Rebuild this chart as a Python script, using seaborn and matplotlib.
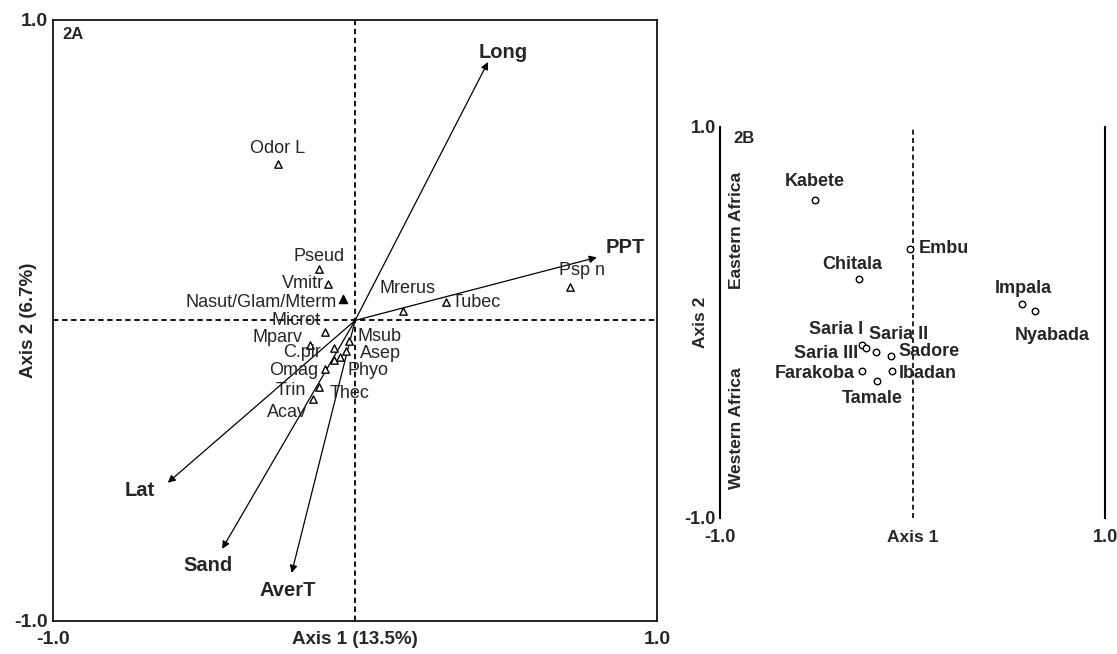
import matplotlib
matplotlib.use("Agg")
import matplotlib.pyplot as plt
import seaborn as sns
import pandas as pd

sns.set_theme(style="white")
plt.rcParams['font.family'] = ['Liberation Sans', 'DejaVu Sans']

# ---- Panel 2A: environmental vectors ----
env_names = ["Long", "PPT", "Lat", "Sand", "AverT"]
env_x = [0.44, 0.80, -0.62, -0.44, -0.21]
env_y = [0.86, 0.21, -0.54, -0.76, -0.84]
env_lab_x = [0.49, 0.894, -0.712, -0.487, -0.222]
env_lab_y = [0.893, 0.243, -0.567, -0.817, -0.90]

# ---- Panel 2A: species scores ----
sp_names = ["Odor L", "Pseud", "Vmitr", "Nasut/Glam/Mterm", "Microt", "Mparv",
            "C.pir", "Msub", "Asep", "Omag", "Phyo", "Trin", "Thec", "Acav",
            "Mrerus", "Tubec", "Psp n"]
sp_x = [-0.255, -0.12, -0.09, -0.04, -0.10, -0.15, -0.07, -0.02, -0.03, -0.10,
        -0.05, -0.12, -0.07, -0.14, 0.16, 0.30, 0.71]
sp_y = [0.52, 0.17, 0.12, 0.07, -0.04, -0.08, -0.09, -0.07, -0.10, -0.16,
        -0.12, -0.22, -0.13, -0.26, 0.03, 0.06, 0.11]
sp_filled = [False, False, False, True, False, False, False, False, False, False,
             False, False, False, False, False, False, False]
sp_lab_x = [-0.258, -0.118, -0.103, -0.06, -0.195, -0.257, -0.175, 0.08, 0.083,
            -0.204, 0.043, -0.212, -0.017, -0.226, 0.175, 0.32, 0.75]
sp_lab_y = [0.573, 0.213, 0.123, 0.06, 0.0, -0.057, -0.106, -0.053, -0.11,
            -0.165, -0.167, -0.233, -0.243, -0.307, 0.107, 0.06, 0.167]
sp_ha = ["center", "center", "right", "right", "center", "center", "center",
         "center", "center", "center", "center", "center", "center", "center",
         "center", "left", "center"]

# ---- Panel 2B: site scores ----
site_names = ["Kabete", "Embu", "Chitala", "Impala", "Nyabada", "Saria I",
              "Saria II", "Saria III", "Sadore", "Farakoba", "Ibadan", "Tamale"]
site_x = [-0.506, -0.013, -0.28, 0.57, 0.636, -0.26, -0.19, -0.24, -0.11,
          -0.26, -0.106, -0.185]
site_y = [0.627, 0.376, 0.22, 0.095, 0.059, -0.115, -0.15, -0.13, -0.17,
          -0.25, -0.25, -0.30]
site_lab_x = [-0.51, 0.034, -0.314, 0.574, 0.725, -0.259, -0.226, -0.283,
              -0.075, -0.299, -0.07, -0.21]
site_lab_y = [0.72, 0.38, 0.294, 0.176, -0.069, -0.038, -0.064, -0.161,
              -0.151, -0.263, -0.263, -0.39]
site_ha = ["center", "left", "center", "center", "center", "right", "left",
           "right", "left", "right", "left", "center"]

df_sp = pd.DataFrame({"x": sp_x, "y": sp_y, "filled": sp_filled})
df_site = pd.DataFrame({"x": site_x, "y": site_y})

fig = plt.figure(figsize=(11.17, 6.54), dpi=100)
axA = fig.add_axes([0.0474, 0.0505, 0.541, 0.919])
axB = fig.add_axes([0.6446, 0.208, 0.3447, 0.598])

# ---------------- Panel A ----------------
axA.set_xlim(-1, 1)
axA.set_ylim(-1, 1)
axA.axhline(0, color="black", ls=(0, (3, 2)), lw=1.3, zorder=1)
axA.axvline(0, color="black", ls=(0, (3, 2)), lw=1.3, zorder=1)
for nm, x, y, lx, ly in zip(env_names, env_x, env_y, env_lab_x, env_lab_y):
    axA.annotate("", xy=(x, y), xytext=(0, 0),
                 arrowprops=dict(arrowstyle="-|>", color="black", lw=0.9,
                                 mutation_scale=11, shrinkA=0, shrinkB=0))
    axA.text(lx, ly, nm, ha="center", va="center", fontweight="bold", fontsize=14.5)

sns.scatterplot(data=df_sp[~df_sp["filled"]], x="x", y="y", ax=axA, marker="^",
                s=28, facecolor="white", edgecolor="black", linewidth=1.0, zorder=3)
sns.scatterplot(data=df_sp[df_sp["filled"]], x="x", y="y", ax=axA, marker="^",
                s=34, color="black", edgecolor="black", linewidth=1.0, zorder=3)
for nm, lx, ly, ha in zip(sp_names, sp_lab_x, sp_lab_y, sp_ha):
    axA.text(lx, ly, nm, ha=ha, va="center", fontsize=13)

axA.text(-0.97, 0.95, "2A", fontweight="bold", fontsize=12, ha="left", va="center")
axA.set_xticks([-1, -0.5, 0, 0.5, 1])
axA.set_xticklabels(["-1.0", "", "", "", "1.0"], fontweight="bold", fontsize=14)
axA.set_yticks([-1, -0.5, 0, 0.5, 1])
axA.set_yticklabels(["-1.0", "", "", "", "1.0"], fontweight="bold", fontsize=14)
axA.tick_params(axis="y", direction="inout", length=5, width=1, pad=1)
axA.tick_params(axis="x", direction="inout", length=5, width=1, pad=5)
axA.set_xlabel("Axis 1 (13.5%)", fontweight="bold", fontsize=13.5)
axA.set_ylabel("Axis 2 (6.7%)", fontweight="bold", fontsize=13.5)
axA.xaxis.set_label_coords(0.5, -0.017)
axA.yaxis.set_label_coords(-0.026, 0.5)
for s in axA.spines.values():
    s.set_color("black")
    s.set_linewidth(1.2)

# ---------------- Panel B ----------------
axB.set_xlim(-1, 1)
axB.set_ylim(-1, 1)
axB.axvline(0, color="black", ls=(0, (3, 2)), lw=1.2, zorder=1)
sns.scatterplot(data=df_site, x="x", y="y", ax=axB, marker="o", s=22,
                facecolor="white", edgecolor="black", linewidth=1.0, zorder=3)
for nm, lx, ly, ha in zip(site_names, site_lab_x, site_lab_y, site_ha):
    axB.text(lx, ly, nm, ha=ha, va="center", fontweight="bold", fontsize=13)
axB.text(-0.93, 0.94, "2B", fontweight="bold", fontsize=12, ha="left", va="center")
axB.text(-0.915, 0.47, "Eastern Africa", rotation=90, fontweight="bold",
         fontsize=12.5, ha="center", va="center")
axB.text(-0.915, -0.54, "Western Africa", rotation=90, fontweight="bold",
         fontsize=12.5, ha="center", va="center")

axB.spines["top"].set_visible(False)
axB.spines["bottom"].set_visible(False)
for k in ("left", "right"):
    axB.spines[k].set_color("black")
    axB.spines[k].set_linewidth(1.5)
axB.set_xticks([-1, -0.5, 0.5, 1])
axB.set_xticklabels(["-1.0", "", "", "1.0"], fontweight="bold", fontsize=13)
axB.set_yticks([-1, 1])
axB.set_yticklabels(["-1.0", "1.0"], fontweight="bold", fontsize=13)
axB.tick_params(axis="x", direction="in", length=4, width=1.5, pad=8)
axB.tick_params(axis="y", length=0, pad=3)
axB.set_xlabel("Axis 1", fontweight="bold", fontsize=12.5)
axB.set_ylabel("Axis 2", fontweight="bold", fontsize=12.5)
axB.xaxis.set_label_coords(0.5, -0.03)
axB.yaxis.set_label_coords(-0.03, 0.5)

fig.savefig("out.png", dpi=100, facecolor="white")
